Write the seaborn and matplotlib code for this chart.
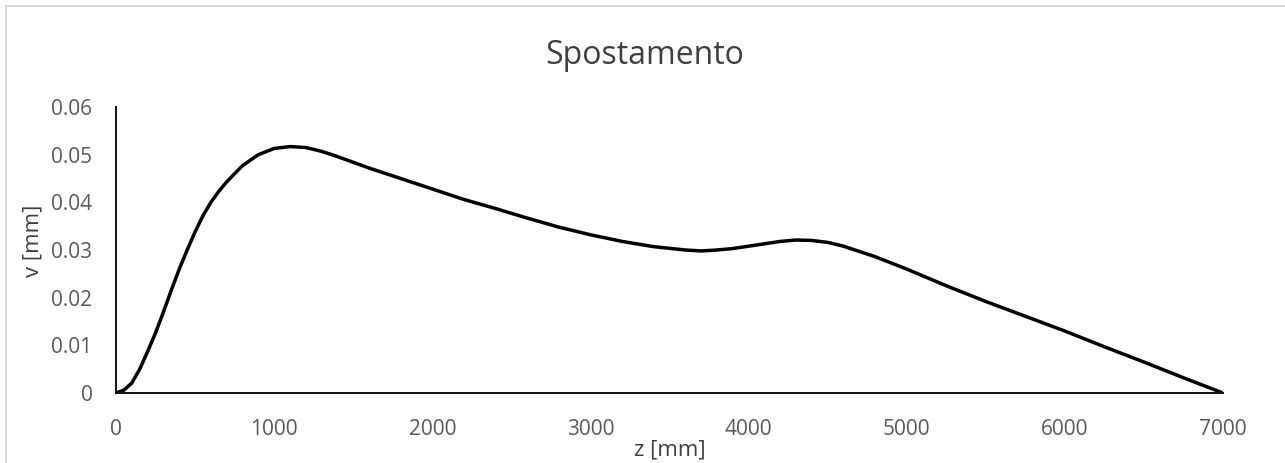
import matplotlib
matplotlib.use("Agg")
import matplotlib.pyplot as plt
import seaborn as sns
import pandas as pd
from matplotlib.patches import Rectangle

# Displacement along the beam
z_mm = [0, 50, 100, 150, 200, 250, 300, 350, 400, 450, 500, 550, 600, 650,
        700, 800, 900, 1000, 1100, 1200, 1300, 1400, 1500, 1600, 1800, 2000,
        2200, 2400, 2600, 2800, 3000, 3200, 3400, 3600, 3700, 3800, 3900,
        4000, 4200, 4300, 4400, 4500, 4600, 4800, 5000, 5250, 5500, 5750,
        6000, 6250, 6500, 6750, 7000]
v_mm = [0.0, 0.0006, 0.0021, 0.0050, 0.0087, 0.0126, 0.0170, 0.0216, 0.0260,
        0.0300, 0.0338, 0.0372, 0.0400, 0.0423, 0.0443, 0.0477, 0.0500,
        0.0513, 0.0517, 0.0515, 0.0507, 0.0496, 0.0484, 0.0472, 0.0450,
        0.0428, 0.0406, 0.0387, 0.0367, 0.0348, 0.0332, 0.0318, 0.0307,
        0.0300, 0.0298, 0.0300, 0.0303, 0.0308, 0.0318, 0.0321, 0.0320,
        0.0316, 0.0308, 0.0286, 0.0260, 0.0225, 0.0192, 0.0161, 0.0130,
        0.0097, 0.0065, 0.0032, 0.0]

x_ticks = [0, 1000, 2000, 3000, 4000, 5000, 6000, 7000]
y_ticks = [0, 0.01, 0.02, 0.03, 0.04, 0.05, 0.06]
y_tick_labels = ["0", "0.01", "0.02", "0.03", "0.04", "0.05", "0.06"]

sns.set_theme(style="white")
plt.rcParams["font.family"] = ["Open Sans", "DejaVu Sans"]

W, H = 1285, 463
fig = plt.figure(figsize=(W / 100, H / 100), dpi=100)
ax = fig.add_axes([116 / W, 1 - 393 / H, (1223 - 116) / W, (393 - 107) / H])

df = pd.DataFrame({"z": z_mm, "v": v_mm})
sns.lineplot(data=df, x="z", y="v", color="black", linewidth=2.5, ax=ax)

ax.set_xlim(0, 7000)
ax.set_ylim(0, 0.06)
ax.set_xticks(x_ticks)
ax.set_xticklabels([str(t) for t in x_ticks])
ax.set_yticks(y_ticks)
ax.set_yticklabels(y_tick_labels)
ax.tick_params(axis="both", length=0, labelsize=15, labelcolor="#595959")
ax.tick_params(axis="x", pad=19)
ax.tick_params(axis="y", pad=17)

for side in ("top", "right"):
    ax.spines[side].set_visible(False)
for side in ("left", "bottom"):
    ax.spines[side].set_color("#111111")
    ax.spines[side].set_linewidth(1.4)

ax.set_xlabel("z [mm]", fontsize=16, color="#404040", labelpad=0)
ax.set_ylabel("v [mm]", fontsize=16, color="#404040", labelpad=0)
ax.xaxis.label.set_va("center")
ax.yaxis.label.set_va("center")
ax.xaxis.set_label_coords((670 - 116) / (1223 - 116), -(450 - 393) / (393 - 107))
ax.yaxis.set_label_coords(-(116 - 33) / (1223 - 116), (393 - 241) / (393 - 107))

fig.text(645 / W, 1 - 55 / H, "Spostamento", fontsize=23, color="#404040",
         ha="center", va="center")

# chart-area frame
fig.patches.append(Rectangle((6 / W, -0.1), 1.2, 1 - 6 / H + 0.1,
                             transform=fig.transFigure, fill=False,
                             edgecolor="#d9d9d9", linewidth=1.5))

fig.savefig("out.png", dpi=100)
